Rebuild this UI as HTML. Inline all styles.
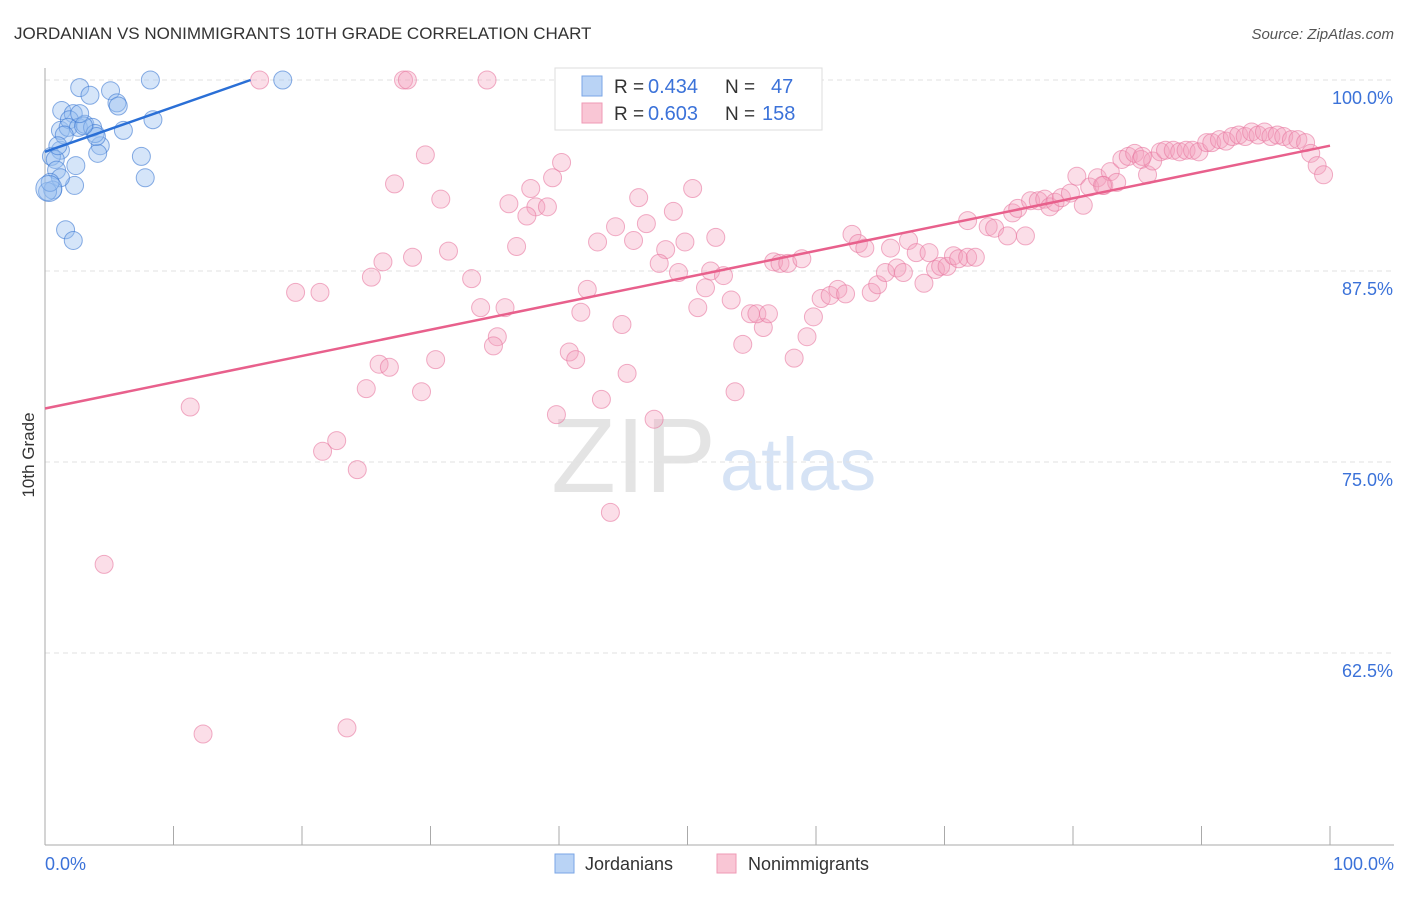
<!DOCTYPE html>
<html><head><meta charset="utf-8">
<style>
body{margin:0;background:#fff;font-family:"Liberation Sans",sans-serif;}
svg text{font-family:"Liberation Sans",sans-serif;}
</style></head>
<body>
<svg id="chart" width="1406" height="892">
<text x="14" y="39" font-size="17" fill="#333">JORDANIAN VS NONIMMIGRANTS 10TH GRADE CORRELATION CHART</text>
<text x="1394" y="39" font-size="15" fill="#555" font-style="italic" text-anchor="end">Source: ZipAtlas.com</text>
<text x="716" y="492" font-size="106" fill="#e4e4e4" text-anchor="end" font-family="Liberation Serif">ZIP</text>
<text x="720" y="490" font-size="74" fill="#d6e3f5">atlas</text>
<g id="grid"></g>
<g id="axes"></g>
<g id="pts"></g>
<g id="trend"></g>
<text x="34" y="455" font-size="17" fill="#333" text-anchor="middle" transform="rotate(-90 34 455)">10th Grade</text>
<text x="45" y="870" font-size="18" fill="#3b72d9">0.0%</text>
<text x="1394" y="870" font-size="18" fill="#3b72d9" text-anchor="end">100.0%</text>
<g>
<rect x="555" y="68" width="267" height="62" fill="#fff" stroke="#ddd"/>
<rect x="582" y="76" width="20" height="20" fill="#b9d3f5" stroke="#7aa6e6"/>
<rect x="582" y="103" width="20" height="20" fill="#f9c6d5" stroke="#ef9ab5"/>
<text x="614" y="93" font-size="19" fill="#333">R =</text>
<text x="648" y="93" font-size="20" fill="#3b72d9">0.434</text>
<text x="725" y="93" font-size="19" fill="#333">N =</text>
<text x="771" y="93" font-size="20" fill="#3b72d9">47</text>
<text x="614" y="120" font-size="19" fill="#333">R =</text>
<text x="648" y="120" font-size="20" fill="#3b72d9">0.603</text>
<text x="725" y="120" font-size="19" fill="#333">N =</text>
<text x="762" y="120" font-size="20" fill="#3b72d9">158</text>
</g>
<g>
<rect x="555" y="854" width="19" height="19" fill="#b9d3f5" stroke="#7aa6e6"/>
<text x="585" y="870" font-size="18" fill="#333">Jordanians</text></g>
<g>
<rect x="717" y="854" width="19" height="19" fill="#f9c6d5" stroke="#ef9ab5"/>
<text x="748" y="870" font-size="18" fill="#333">Nonimmigrants</text></g>
</svg>
<script>
const yTicks=[100,87.5,75,62.5];
const yTickLabels=["100.0%","87.5%","75.0%","62.5%"];
const xTicks=[0,10,20,30,40,50,60,70,80,90,100];
const blueX=[1.3,2.2,2.7,3.5,5.1,5.6,5.7,8.2,18.5,8.4,4.3,4.1,2.4,7.5,7.8,2.3,1.6,2.2,1.2,1.9,1.8,2.6,3.1,3.7,3.9,4.0,6.1,1.2,0.5,0.8,0.9,1.2,0.6,0.2,0.4,3.0,2.7,1.5,1.0];
const blueY=[98.0,97.8,99.5,99.0,99.3,98.5,98.3,100,100,97.4,95.7,95.2,94.4,95.0,93.6,93.1,90.2,89.5,96.7,97.4,96.9,96.9,97.1,96.9,96.5,96.3,96.7,95.4,95.0,94.8,94.1,93.6,92.8,92.7,93.3,97.0,97.8,96.4,95.7];
const pinkX=[16.7,27.9,28.2,34.4,29.6,27.2,30.8,37.8,40.2,39.5,36.1,38.2,39.1,37.5,25.4,26.3,28.6,31.4,19.5,21.4,33.2,33.9,35.8,35.2,34.9,36.7,43.0,42.2,41.7,44.4,45.8,46.2,46.8,48.9,50.4,48.3,47.8,49.8,49.3,52.2,51.8,52.8,51.4,50.8,53.4,44.9,40.8,41.3,45.3,43.3,39.8,47.4,44.0,26.0,26.8,30.4,25.0,29.3,22.7,21.6,24.3,11.3,4.6,12.3,23.5,53.7,54.3,55.9,54.9,55.4,56.3,58.3,59.3,59.8,60.4,61.1,61.7,62.3,62.8,63.3,63.8,64.3,64.8,65.4,65.8,66.3,66.8,67.2,67.8,68.4,68.8,69.3,69.7,70.2,70.7,71.1,71.8,72.4,56.7,57.2,57.8,58.9,71.8,73.4,73.9,74.9,76.3,75.3,75.7,76.7,77.3,77.8,78.2,78.6,79.1,79.8,80.3,80.8,81.3,81.9,82.4,82.9,83.4,83.8,84.3,84.8,85.3,85.8,86.2,86.8,87.2,87.8,88.3,88.8,89.3,89.8,90.4,90.8,91.4,91.9,92.4,92.9,93.4,93.9,94.4,94.9,95.4,95.9,96.4,97.0,97.5,98.1,98.5,99.0,99.5,85.4,82.3];
const pinkY=[100,100,100,100,95.1,93.2,92.2,92.9,94.6,93.6,91.9,91.7,91.7,91.1,87.1,88.1,88.4,88.8,86.1,86.1,87.0,85.1,85.1,83.2,82.6,89.1,89.4,86.3,84.8,90.4,89.5,92.3,90.6,91.4,92.9,88.9,88.0,89.4,87.4,89.7,87.5,87.2,86.4,85.1,85.6,84.0,82.2,81.7,80.8,79.1,78.1,77.8,71.7,81.4,81.2,81.7,79.8,79.6,76.4,75.7,74.5,78.6,68.3,57.2,57.6,79.6,82.7,83.8,84.7,84.7,84.7,81.8,83.2,84.5,85.7,85.9,86.3,86.0,89.9,89.3,89.0,86.1,86.6,87.4,89.0,87.7,87.4,89.5,88.7,86.7,88.7,87.6,87.8,87.8,88.5,88.3,88.4,88.4,88.1,88.0,88.0,88.3,90.8,90.4,90.3,89.8,89.8,91.3,91.6,92.1,92.1,92.2,91.7,92.0,92.3,92.6,93.7,91.8,93.0,93.6,93.1,94.0,93.3,94.8,95.0,95.2,94.8,93.8,94.7,95.3,95.4,95.4,95.3,95.4,95.4,95.3,95.9,95.9,96.1,96.0,96.3,96.4,96.3,96.6,96.4,96.6,96.3,96.4,96.3,96.1,96.1,95.9,95.2,94.4,93.8,95.0,93.1];
const blueTrend=[[0,95.3],[16,100]];
const pinkTrend=[[0,78.5],[100,95.7]];
const NS="http://www.w3.org/2000/svg";
const sx=v=>45+v*12.85;
const sy=v=>80+(100-v)*15.28;
function mk(tag,attrs,parent){const e=document.createElementNS(NS,tag);for(const k in attrs)e.setAttribute(k,attrs[k]);parent.appendChild(e);return e;}
const grid=document.getElementById('grid'),axes=document.getElementById('axes'),pts=document.getElementById('pts'),trend=document.getElementById('trend');
yTicks.forEach((t,i)=>{
 const l=mk('line',{x1:45,x2:1394,y1:sy(t),y2:sy(t),stroke:'#e2e2e2','stroke-dasharray':'5,4'},grid);
 
 
 const tx=mk('text',{x:1393,y:sy(t)+24,'font-size':18,fill:'#3b72d9','text-anchor':'end'},grid);
 tx.textContent=yTickLabels[i];
 
 
});
const ya=mk('line',{x1:45,x2:45,y1:68,y2:845,stroke:'#aaa'},axes);


const xa=mk('line',{x1:45,x2:1394,y1:845,y2:845,stroke:'#aaa'},axes);


xTicks.forEach(t=>{
 const l=mk('line',{x1:sx(t),x2:sx(t),y1:826,y2:845,stroke:'#aaa'},axes);
 
 
});
pinkX.forEach((v,i)=>{
 const c=mk('circle',{cx:sx(v),cy:sy(pinkY[i]),r:9,fill:'rgba(244,160,190,0.35)',stroke:'rgba(232,120,160,0.6)','stroke-width':1},pts);
 
 
});
blueX.forEach((v,i)=>{
 const c=mk('circle',{cx:sx(v),cy:sy(blueY[i]),r:9,fill:'rgba(150,190,240,0.4)',stroke:'rgba(60,120,210,0.6)','stroke-width':1},pts);
 
 
});
const big=mk('circle',{cx:sx(0.3),cy:sy(92.9),r:13,fill:'rgba(150,190,240,0.4)',stroke:'rgba(60,120,210,0.6)'},pts);


const bt=mk('line',{x1:sx(blueTrend[0][0]),y1:sy(blueTrend[0][1]),x2:sx(blueTrend[1][0]),y2:sy(blueTrend[1][1]),stroke:'#2a6fd6','stroke-width':2.5},trend);


const pt=mk('line',{x1:sx(pinkTrend[0][0]),y1:sy(pinkTrend[0][1]),x2:sx(pinkTrend[1][0]),y2:sy(pinkTrend[1][1]),stroke:'#e8608c','stroke-width':2.5},trend);


</script>
</body></html>
